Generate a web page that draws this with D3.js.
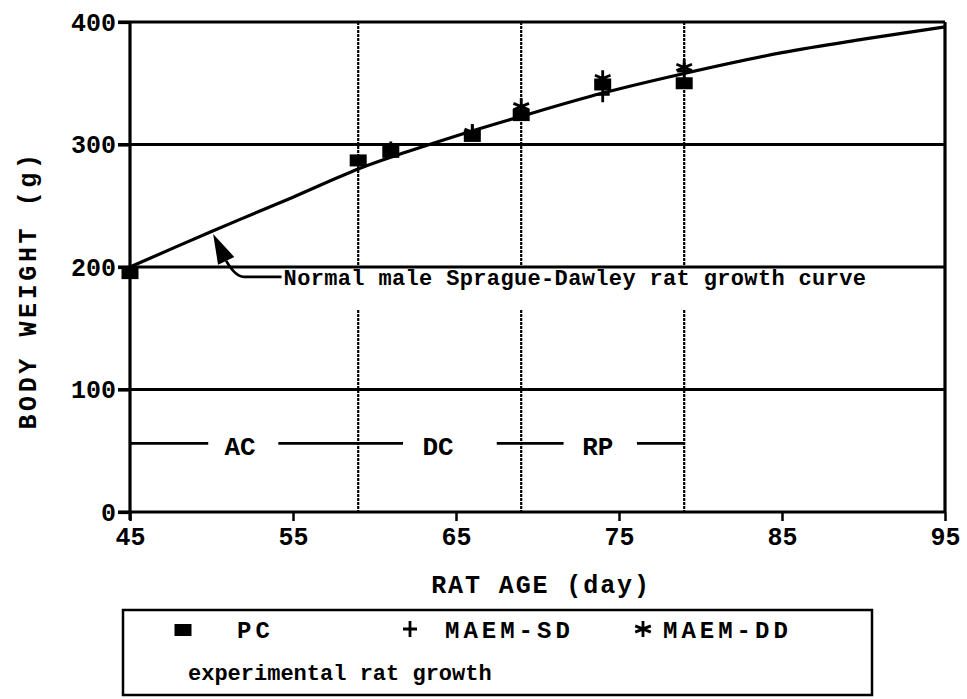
<!DOCTYPE html>
<html><head><meta charset="utf-8">
<script src="https://cdn.jsdelivr.net/npm/d3@7"></script>
<style>
html,body{margin:0;padding:0;background:#fff;}
text{font-family:"Liberation Mono","Courier New",monospace;font-weight:bold;fill:#000;}
</style></head>
<body><svg id="c" width="967" height="699"></svg>
<script>
// ---- data ----
const xTicks = [45, 55, 65, 75, 85, 95];
const yTicks = [0, 100, 200, 300, 400];
const days = [45, 59, 61, 66, 69, 74, 79];
const pcValues = [195, 287, 294, 307, 324, 349, 350];
const sdValues = [null, null, 296, 310, 326, 341, 360];
const ddValues = [null, null, null, 310, 331, 354, 363];
const curveDays = [45, 50, 55, 59, 62, 65, 69, 74, 79, 85, 90, 95];
const curveValues = [200, 229, 257, 280, 294, 307, 323, 342, 358, 375, 386, 396];
const phaseBounds = [59, 69, 79];
const phaseLabels = ["AC", "DC", "RP"];
const phaseLabelDays = [51.75, 63.9, 73.7];
const phaseSegments = [[45, 49.8], [54.1, 61.75], [67.5, 71.6], [76.1, 79]];
const phaseLevel = 56;
const curveLabel = "Normal male Sprague-Dawley rat growth curve";
const legendItems = ["PC", "MAEM-SD", "MAEM-DD"];
const legendTitle = "experimental rat growth";

// ---- layout ----
const svg = d3.select("#c");
const x = d3.scaleLinear().domain([45, 95]).range([130, 945]);
const y = d3.scaleLinear().domain([0, 400]).range([512, 22]);
const sw = 3.2;

// gridlines (horizontal) with small left ticks
svg.append("g").selectAll("line").data(yTicks.filter(d => d > 0)).join("line")
  .attr("x1", x(45) - 12).attr("x2", x(95))
  .attr("y1", d => y(d)).attr("y2", d => y(d))
  .attr("stroke", "#000").attr("stroke-width", sw);

// x axis
const xAxis = svg.append("g").attr("transform", `translate(0,${y(0)})`)
  .call(d3.axisBottom(x).tickValues(xTicks).tickSize(9).tickPadding(5).tickFormat(d3.format("d")));
xAxis.select(".domain").remove();
xAxis.selectAll(".tick line").attr("stroke-width", 2.5);
xAxis.selectAll(".tick text").style("font-size", "25px").attr("dy", "0.75em");
svg.append("line").attr("x1", x(45) - 12).attr("x2", x(95)).attr("y1", y(0)).attr("y2", y(0))
  .attr("stroke", "#000").attr("stroke-width", sw);

// y axis
const yAxis = svg.append("g").attr("transform", `translate(${x(45)},0)`)
  .call(d3.axisLeft(y).tickValues(yTicks).tickSize(12).tickPadding(2).tickFormat(d3.format("d")));
yAxis.select(".domain").remove();
yAxis.selectAll(".tick line").attr("stroke-width", sw);
yAxis.selectAll(".tick text").style("font-size", "25px");
svg.append("line").attr("x1", x(45)).attr("x2", x(45)).attr("y1", y(400)).attr("y2", y(0) + 8)
  .attr("stroke", "#000").attr("stroke-width", sw);
svg.append("line").attr("x1", x(95)).attr("x2", x(95)).attr("y1", y(400)).attr("y2", y(0))
  .attr("stroke", "#000").attr("stroke-width", sw);

// phase boundary lines (broken where annotation is)
const vg = svg.append("g");
phaseBounds.forEach(d => {
  vg.append("line").attr("x1", x(d)).attr("x2", x(d)).attr("y1", y(400)).attr("y2", y(200))
    .attr("stroke", "#000").attr("stroke-width", 2.2).attr("stroke-dasharray", "3,1");
  vg.append("line").attr("x1", x(d)).attr("x2", x(d)).attr("y1", y(165)).attr("y2", y(0))
    .attr("stroke", "#000").attr("stroke-width", 2.2).attr("stroke-dasharray", "3,1");
});

// phase labels and segments
svg.append("g").selectAll("line").data(phaseSegments).join("line")
  .attr("x1", d => x(d[0])).attr("x2", d => x(d[1]))
  .attr("y1", y(phaseLevel)).attr("y2", y(phaseLevel))
  .attr("stroke", "#000").attr("stroke-width", 2.8);
svg.append("g").selectAll("text").data(phaseLabels).join("text")
  .attr("x", (d, i) => x(phaseLabelDays[i])).attr("y", y(phaseLevel) + 12)
  .attr("text-anchor", "middle").style("font-size", "26px").text(d => d);

// growth curve
const line = d3.line().x(d => x(d[0])).y(d => y(d[1])).curve(d3.curveCatmullRom);
svg.append("path").datum(curveDays.map((d, i) => [d, curveValues[i]]))
  .attr("d", line).attr("fill", "none").attr("stroke", "#000").attr("stroke-width", 3.2);

// annotation arrow
const tip = [50.1, 227], base = [50.9, 205], elbow = [51.6, 192], tail = [54.3, 192];
const ang = Math.atan2(y(base[1]) - y(tip[1]), x(base[0]) - x(tip[0]));
const hw = 9;
const bx = x(base[0]), by = y(base[1]);
svg.append("path")
  .attr("d", `M${x(tip[0])},${y(tip[1])} L${bx - hw * Math.sin(ang)},${by + hw * Math.cos(ang)} L${bx + hw * Math.sin(ang)},${by - hw * Math.cos(ang)} Z`)
  .attr("fill", "#000");
svg.append("path")
  .attr("d", `M${bx},${by} Q${x(elbow[0]) - 2},${y(elbow[1])} ${x(elbow[0]) + 6},${y(elbow[1])} L${x(tail[0])},${y(tail[1])}`)
  .attr("fill", "none").attr("stroke", "#000").attr("stroke-width", 2.8);
svg.append("text").attr("x", x(tail[0]) + 2).attr("y", y(tail[1]) + 8)
  .style("font-size", "22px").style("letter-spacing", "0.35px").text(curveLabel);

// markers
function square(g, cx, cy) {
  g.append("rect").attr("x", cx - 8.5).attr("y", cy - 6).attr("width", 17).attr("height", 12).attr("fill", "#000");
}
function plus(g, cx, cy) {
  g.append("path").attr("d", `M${cx - 7},${cy}H${cx + 7}M${cx},${cy - 8}V${cy + 8}`)
    .attr("stroke", "#000").attr("stroke-width", 2.8);
}
function star(g, cx, cy) {
  const r = 9;
  let d = `M${cx},${cy - 8}V${cy + 8}`;
  [30, 150].forEach(a => {
    const rad = a * Math.PI / 180;
    d += `M${cx - r * Math.cos(rad)},${cy - r * Math.sin(rad) * 0.7}L${cx + r * Math.cos(rad)},${cy + r * Math.sin(rad) * 0.7}`;
  });
  g.append("path").attr("d", d).attr("stroke", "#000").attr("stroke-width", 2.8);
}
const mg = svg.append("g");
days.forEach((d, i) => {
  if (pcValues[i] != null) square(mg, x(d), y(pcValues[i]));
  if (sdValues[i] != null) plus(mg, x(d), y(sdValues[i]));
  if (ddValues[i] != null) star(mg, x(d), y(ddValues[i]));
});

// axis titles
svg.append("text").attr("x", 541).attr("y", 593).attr("text-anchor", "middle")
  .style("font-size", "25px").style("letter-spacing", "1.9px").text("RAT AGE (day)");
svg.append("text").attr("transform", "translate(36,290) rotate(-90)").attr("text-anchor", "middle")
  .style("font-size", "25px").style("letter-spacing", "3.6px").text("BODY WEIGHT (g)");

// legend
const lg = svg.append("g");
lg.append("rect").attr("x", 123).attr("y", 610).attr("width", 749).attr("height", 85)
  .attr("fill", "none").attr("stroke", "#000").attr("stroke-width", 2.5);
const legX = [183, 410, 643];
const legTX = [237, 445, 663];
legendItems.forEach((t, i) => {
  if (i === 0) square(lg, legX[i], 630);
  if (i === 1) plus(lg, legX[i], 629);
  if (i === 2) star(lg, legX[i], 629);
  lg.append("text").attr("x", legTX[i]).attr("y", 638).style("font-size", "24px").style("letter-spacing", "4px").text(t);
});
lg.append("text").attr("x", 188).attr("y", 680).style("font-size", "22px").text(legendTitle);
</script></body></html>
